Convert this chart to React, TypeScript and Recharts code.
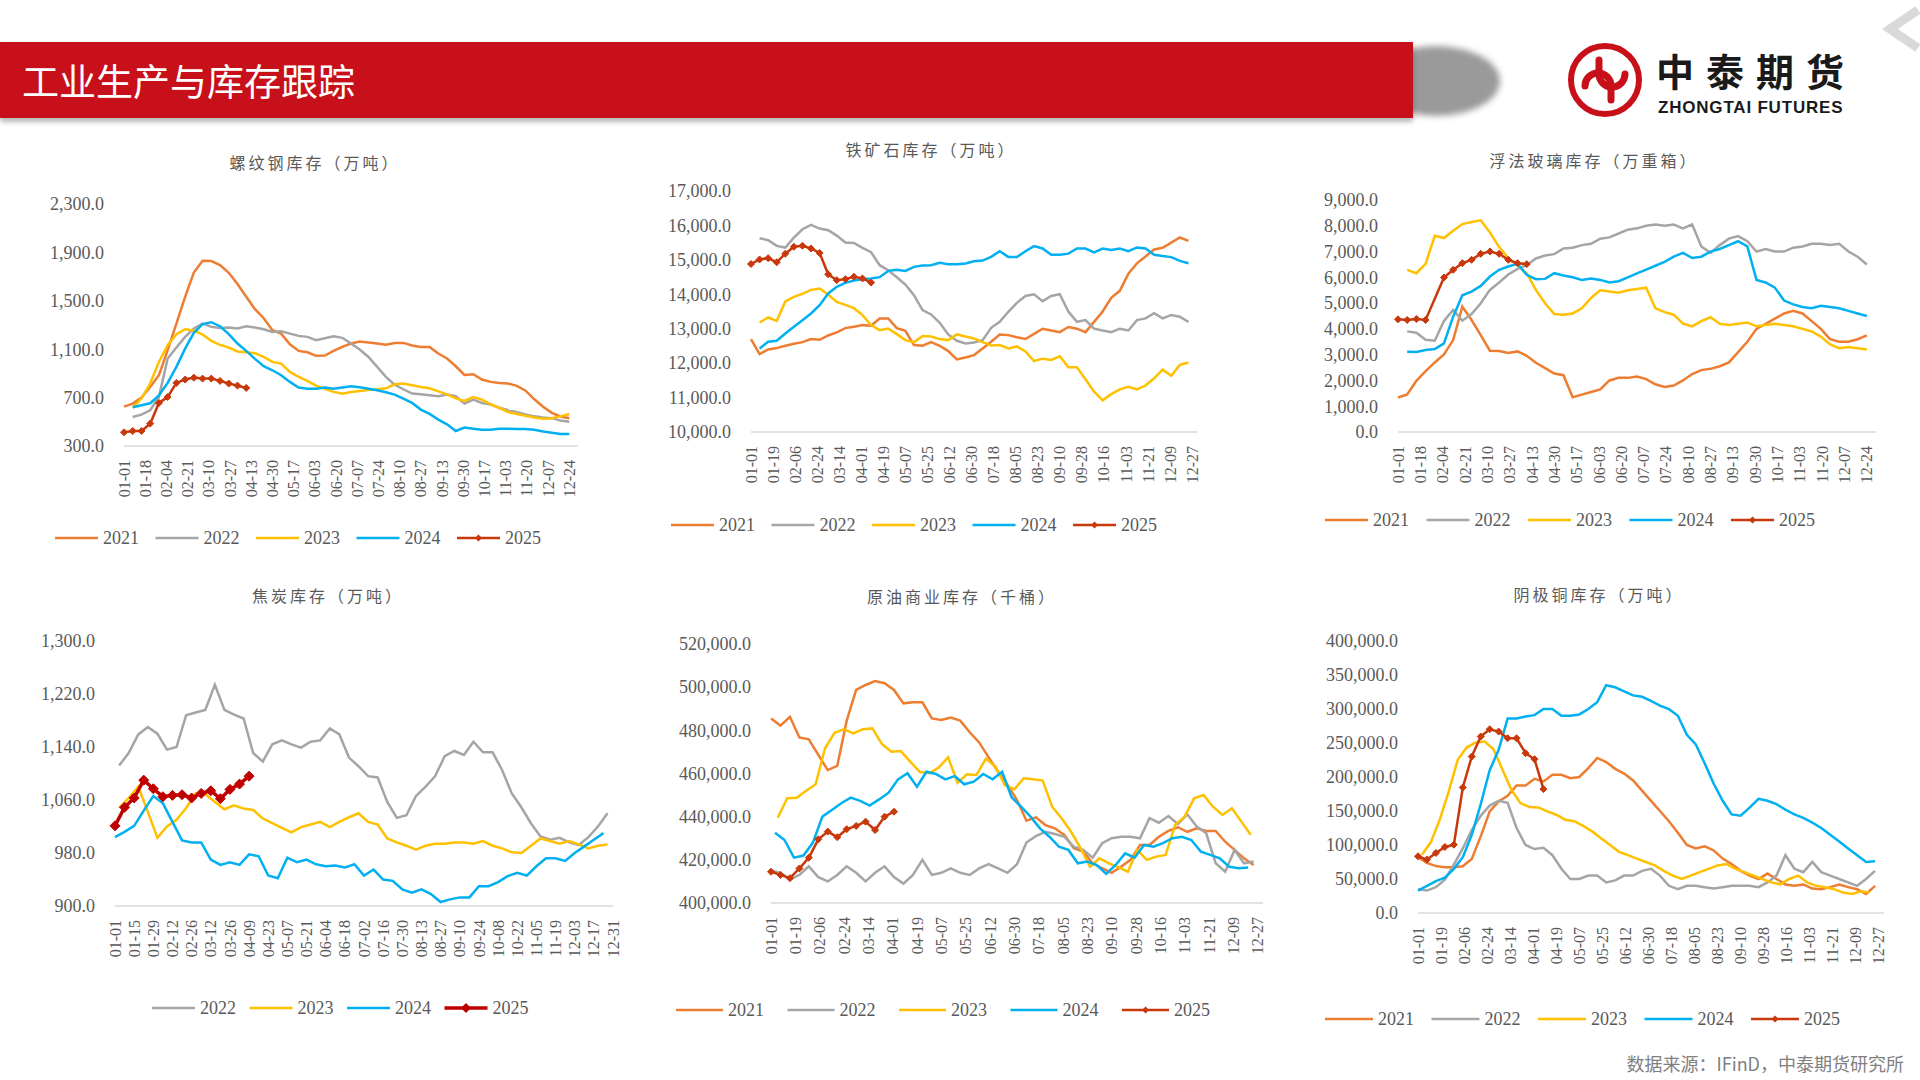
import React from "react";
import { LineChart, Line, XAxis, YAxis } from "recharts";

const ORANGE = "#ED7D31";
const GRAY = "#A5A5A5";
const YELLOW = "#FFC000";
const BLUE = "#00B0F0";
const RUST = "#C8380B";
const CRIMSON = "#C00000";
const TEXT = "#595959";

const NUM_FONT = "'Liberation Serif', 'Times New Roman', serif";
const CJK_FONT = "'Noto Sans CJK SC', 'Noto Sans', sans-serif";

// tick labels (MM-DD)
const tick17 = ["01-01", "01-18", "02-04", "02-21", "03-10", "03-27", "04-13", "04-30", "05-17", "06-03", "06-20", "07-07", "07-24", "08-10", "08-27", "09-13", "09-30", "10-17", "11-03", "11-20", "12-07", "12-24"];
const tick18 = ["01-01", "01-19", "02-06", "02-24", "03-14", "04-01", "04-19", "05-07", "05-25", "06-12", "06-30", "07-18", "08-05", "08-23", "09-10", "09-28", "10-16", "11-03", "11-21", "12-09", "12-27"];
const tick14 = ["01-01", "01-15", "01-29", "02-12", "02-26", "03-12", "03-26", "04-09", "04-23", "05-07", "05-21", "06-04", "06-18", "07-02", "07-16", "07-30", "08-13", "08-27", "09-10", "09-24", "10-08", "10-22", "11-05", "11-19", "12-03", "12-17", "12-31"];

// 螺纹钢库存（万吨）, weekly
const rebar2021 = [625, 650, 700, 788, 885, 1092, 1312, 1533, 1734, 1831, 1828, 1795, 1731, 1638, 1533, 1431, 1356, 1257, 1229, 1141, 1086, 1075, 1045, 1047, 1086, 1119, 1147, 1163, 1155, 1147, 1136, 1152, 1152, 1130, 1119, 1119, 1064, 1023, 959, 887, 893, 849, 830, 821, 816, 797, 757, 686, 625, 574, 544, 530];
const rebar2022 = [540, 559, 595, 705, 1023, 1114, 1202, 1271, 1312, 1285, 1276, 1279, 1271, 1290, 1279, 1265, 1243, 1249, 1229, 1210, 1202, 1174, 1191, 1207, 1194, 1147, 1097, 1036, 954, 871, 807, 769, 733, 727, 719, 711, 725, 711, 650, 683, 656, 642, 617, 595, 580, 560, 545, 535, 530, 510, 500];
const rebar2023 = [617, 692, 816, 995, 1133, 1224, 1265, 1254, 1221, 1169, 1136, 1114, 1081, 1075, 1067, 1036, 995, 981, 912, 871, 838, 799, 772, 747, 733, 747, 755, 763, 769, 777, 810, 816, 802, 788, 777, 752, 727, 694, 672, 705, 683, 645, 614, 581, 565, 550, 535, 525, 530, 545, 565];
const rebar2024 = [620, 636, 653, 719, 821, 954, 1105, 1235, 1307, 1323, 1290, 1224, 1147, 1086, 1020, 959, 926, 885, 830, 783, 774, 774, 783, 774, 783, 794, 785, 774, 761, 744, 725, 692, 656, 601, 565, 518, 479, 424, 452, 443, 435, 435, 443, 443, 440, 440, 435, 420, 410, 400, 400];
const rebar2025 = [413, 424, 424, 485, 656, 705, 821, 849, 865, 857, 857, 838, 816, 799, 780];

// 铁矿石库存（万吨）
const ore2021 = [12698, 12263, 12398, 12437, 12505, 12563, 12611, 12698, 12679, 12804, 12891, 13017, 13056, 13104, 13085, 13297, 13297, 13017, 12940, 12524, 12505, 12611, 12505, 12350, 12108, 12166, 12234, 12427, 12621, 12833, 12814, 12750, 12700, 12850, 13000, 12950, 12900, 13050, 13000, 12900, 13200, 13500, 13900, 14100, 14600, 14900, 15100, 15300, 15350, 15500, 15650, 15550];
const ore2022 = [15628, 15570, 15406, 15357, 15647, 15889, 16015, 15908, 15860, 15705, 15502, 15493, 15348, 15222, 14845, 14700, 14497, 14284, 13974, 13539, 13414, 13172, 12833, 12650, 12572, 12601, 12669, 13027, 13201, 13491, 13750, 13950, 14000, 13800, 13950, 14000, 13500, 13200, 13250, 13000, 12950, 12900, 13000, 12950, 13250, 13300, 13450, 13300, 13400, 13350, 13200];
const ore2023 = [13181, 13326, 13230, 13791, 13926, 14013, 14129, 14168, 13994, 13781, 13694, 13597, 13394, 13104, 12959, 13007, 12843, 12669, 12611, 12785, 12775, 12698, 12669, 12833, 12775, 12717, 12611, 12514, 12524, 12427, 12485, 12340, 12060, 12130, 12095, 12200, 11880, 11880, 11530, 11170, 10920, 11100, 11240, 11310, 11240, 11350, 11560, 11810, 11630, 11950, 12020];
const ore2024 = [12427, 12621, 12650, 12862, 13056, 13249, 13443, 13684, 14023, 14216, 14332, 14400, 14439, 14458, 14497, 14680, 14709, 14680, 14796, 14835, 14845, 14912, 14874, 14874, 14893, 14961, 14980, 15086, 15251, 15086, 15080, 15250, 15400, 15330, 15150, 15150, 15180, 15330, 15330, 15220, 15330, 15290, 15330, 15250, 15360, 15330, 15150, 15110, 15080, 14970, 14900];
const ore2025 = [14880, 15010, 15050, 14930, 15180, 15380, 15410, 15330, 15200, 14580, 14410, 14440, 14510, 14460, 14340];

// 浮法玻璃库存（万重箱）
const glass2021 = [1336, 1453, 1984, 2361, 2698, 3009, 3567, 4864, 4345, 3761, 3152, 3139, 3061, 3126, 2957, 2685, 2477, 2270, 2205, 1350, 1450, 1550, 1650, 2000, 2100, 2100, 2150, 2050, 1850, 1750, 1800, 2000, 2250, 2400, 2450, 2550, 2700, 3100, 3500, 4000, 4200, 4400, 4600, 4700, 4600, 4300, 4000, 3600, 3500, 3500, 3600, 3750];
const glass2022 = [3904, 3852, 3580, 3541, 4306, 4734, 4319, 4578, 4993, 5512, 5798, 6109, 6329, 6472, 6731, 6848, 6900, 7121, 7150, 7250, 7300, 7500, 7550, 7700, 7850, 7900, 8000, 8050, 8000, 8050, 7900, 8050, 7200, 6950, 7250, 7500, 7600, 7400, 7000, 7100, 7000, 7000, 7150, 7200, 7300, 7300, 7250, 7300, 7000, 6800, 6500];
const glass2023 = [6290, 6161, 6524, 7613, 7523, 7808, 8067, 8145, 8210, 7743, 7172, 6744, 6472, 6161, 5512, 4993, 4578, 4553, 4600, 4800, 5200, 5500, 5450, 5400, 5500, 5550, 5600, 4800, 4650, 4550, 4200, 4100, 4300, 4450, 4200, 4150, 4200, 4250, 4100, 4150, 4200, 4150, 4100, 4000, 3900, 3700, 3400, 3250, 3300, 3250, 3200];
const glass2024 = [3113, 3100, 3178, 3217, 3437, 4475, 5305, 5447, 5668, 6031, 6290, 6420, 6524, 6096, 5927, 5940, 6161, 6070, 6000, 5900, 5950, 5900, 5800, 5850, 6000, 6150, 6300, 6450, 6600, 6800, 6950, 6750, 6800, 7000, 7100, 7250, 7400, 7200, 5900, 5800, 5600, 5100, 4950, 4850, 4800, 4900, 4850, 4800, 4700, 4600, 4500];
const glass2025 = [4371, 4345, 4384, 4345, null, 5992, 6290, 6550, 6680, 6913, 7004, 6913, 6680, 6550, 6511];

// 焦炭库存（万吨）
const coke2022 = [1112, 1131, 1159, 1170, 1160, 1136, 1140, 1188, 1192, 1196, 1234, 1196, 1189, 1183, 1131, 1118, 1144, 1150, 1144, 1139, 1148, 1150, 1168, 1159, 1124, 1111, 1096, 1094, 1057, 1033, 1037, 1066, 1080, 1096, 1126, 1134, 1128, 1148, 1132, 1132, 1105, 1070, 1049, 1025, 1005, 1000, 1003, 996, 992, 1004, 1020, 1040];
const coke2023 = [1048, 1063, 1080, 1042, 1003, 1020, 1030, 1048, 1070, 1069, 1057, 1046, 1052, 1047, 1045, 1032, 1025, 1018, 1011, 1019, 1023, 1027, 1019, 1027, 1034, 1040, 1027, 1023, 1002, 996, 991, 985, 991, 994, 994, 996, 996, 994, 998, 991, 987, 981, 980, 991, 1002, 998, 994, 998, 993, 987, 991, 993];
const coke2024 = [1004, 1012, 1021, 1044, 1066, 1055, 1027, 999, 996, 996, 970, 962, 966, 962, 978, 975, 946, 942, 973, 966, 970, 963, 960, 961, 958, 963, 946, 955, 940, 938, 925, 920, 925, 918, 906, 910, 913, 913, 930, 930, 936, 945, 950, 946, 960, 972, 972, 968, 980, 990, 1000, 1010];
const coke2025 = [1021, 1049, 1063, 1090, 1077, 1065, 1067, 1068, 1063, 1070, 1074, 1062, 1076, 1084, 1096];

// 原油商业库存（千桶）
const crude2021 = [485500, 482200, 486300, 476700, 475800, 468600, 461600, 463500, 484500, 498700, 501000, 502800, 501800, 498700, 492500, 493000, 493000, 485500, 484800, 485900, 484500, 479100, 474400, 467500, 460800, 454700, 447700, 438100, 439700, 436100, 434600, 431500, 425400, 423800, 418400, 416100, 414000, 416800, 420000, 426900, 426900, 430700, 433400, 435100, 433000, 434600, 433400, 433400, 428400, 424600, 420700, 417600];
const crude2022 = [415000, 414000, 411000, 413000, 417000, 412000, 410000, 413000, 417000, 414000, 410000, 414000, 417000, 412000, 409000, 413000, 420000, 413000, 414000, 416000, 414000, 413000, 416000, 418000, 416000, 414000, 418000, 428000, 431000, 433000, 432000, 430700, 426100, 424600, 421000, 427700, 430000, 430700, 430700, 430000, 439300, 437200, 440300, 436600, 441100, 435400, 432300, 418400, 414500, 424600, 418400, 419200];
const crude2023 = [439500, 448500, 448800, 452000, 455000, 471700, 478900, 480500, 478600, 480500, 480900, 473700, 470100, 470400, 465500, 460800, 460100, 462700, 467500, 455700, 459600, 459300, 466900, 463200, 454700, 452700, 457800, 457300, 456700, 444600, 439300, 433000, 425400, 416800, 420700, 418400, 416600, 414500, 424600, 420000, 421500, 422300, 436200, 440000, 448500, 450000, 444600, 440800, 443900, 437700, 431500];
const crude2024 = [432600, 429200, 421000, 422000, 428000, 440000, 443100, 446200, 448800, 447300, 445100, 448000, 451100, 457300, 460100, 453900, 460800, 459800, 457300, 458800, 455000, 456200, 459800, 457300, 460800, 449000, 444600, 440000, 434600, 430700, 426100, 424600, 418400, 419200, 417600, 413500, 417600, 423000, 421000, 426900, 426100, 427700, 430000, 430700, 429200, 423800, 422300, 420700, 416800, 416100, 416500];
const crude2025 = [414500, 413000, 411500, 416000, 421000, 429500, 433100, 430500, 434200, 435700, 437700, 433800, 440000, 442300];

// 阴极铜库存（万吨）
const copper2021 = [81900, 73600, 69000, 67200, 67200, 68700, 79500, 112700, 149400, 164100, 172400, 187600, 187600, 197400, 193400, 203200, 203200, 198300, 200000, 213000, 228000, 222000, 212000, 205000, 195000, 180000, 165000, 150000, 135000, 118000, 100000, 95000, 98000, 92000, 80000, 72000, 62000, 55000, 50000, 58000, 50000, 42000, 40000, 42000, 36000, 35000, 38000, 42000, 38000, 35000, 28000, 40000];
const copper2022 = [35000, 33000, 38000, 49000, 71000, 95000, 122000, 143000, 158000, 165000, 162000, 125000, 100000, 94000, 96000, 85000, 65000, 50000, 50000, 55000, 55000, 45000, 48000, 55000, 55000, 62000, 65000, 55000, 40000, 35000, 40000, 40000, 38000, 36000, 38000, 40000, 40000, 40000, 38000, 45000, 55000, 85000, 65000, 60000, 75000, 60000, 55000, 50000, 45000, 40000, 50000, 62000];
const copper2023 = [85800, 103900, 137200, 178800, 225200, 243300, 250700, 252100, 240900, 210600, 181200, 161600, 155800, 155300, 149400, 144500, 137200, 135000, 128000, 120000, 110000, 100000, 90000, 85000, 80000, 75000, 70000, 62000, 55000, 50000, 55000, 60000, 65000, 70000, 72000, 65000, 60000, 55000, 50000, 45000, 42000, 50000, 55000, 45000, 40000, 38000, 35000, 30000, 28000, 32000, 30000];
const copper2024 = [33000, 40000, 47000, 52000, 65000, 82000, 115000, 160000, 210000, 240000, 286000, 286000, 289000, 291000, 300000, 300000, 290000, 290000, 292000, 300000, 310000, 335000, 332000, 326000, 320000, 318000, 312000, 305000, 300000, 290000, 262000, 248000, 220000, 190000, 165000, 145000, 143000, 155000, 168000, 165000, 160000, 152000, 145000, 140000, 133000, 125000, 115000, 105000, 95000, 85000, 75000, 76000];
const copper2025 = [83400, 78500, 88300, 97100, 100500, 184600, 230100, 259500, 270200, 266800, 257000, 257000, 235000, 226200, 182200];

const MONTH_DAYS = [31, 28, 31, 30, 31, 30, 31, 31, 30, 31, 30, 31];

const dayOfYear = (md: string) => {
  const [m, d] = md.split("-").map(Number);
  let n = d - 1;
  for (let i = 0; i < m - 1; i++) n += MONTH_DAYS[i];
  return n;
};

const labelOfDay = (day: number) => {
  let m = 0;
  let d = Math.round(day);
  while (m < 11 && d >= MONTH_DAYS[m]) {
    d -= MONTH_DAYS[m];
    m++;
  }
  return `${String(m + 1).padStart(2, "0")}-${String(d + 1).padStart(2, "0")}`;
};

const fmt = (v: number) =>
  v.toLocaleString("en-US", { minimumFractionDigits: 1, maximumFractionDigits: 1 });

type Series = { name: string; color: string; start: string; values: (number | null)[]; marker?: number; width?: number };

const buildRows = (series: Series[]) => {
  const map = new Map<number, any>();
  series.forEach((s, k) => {
    const d0 = dayOfYear(s.start);
    s.values.forEach((v, i) => {
      if (v == null) return;
      const day = d0 + 7 * i;
      const row = map.get(day) || { day };
      row[`s${k}`] = v;
      map.set(day, row);
    });
  });
  return Array.from(map.values()).sort((a, b) => a.day - b.day);
};

const XTick = (props: any) => {
  const { x, y, payload } = props;
  return (
    <text x={x} y={y} transform={`rotate(-90, ${x}, ${y})`} textAnchor="end" dy="0.35em"
      fontFamily={NUM_FONT} fontSize={16} fill={TEXT}>
      {labelOfDay(payload.value)}
    </text>
  );
};

const YTick = (props: any) => {
  const { x, y, payload } = props;
  return (
    <text x={x} y={y} textAnchor="end" dy="0.35em" fontFamily={NUM_FONT} fontSize={18} fill={TEXT}>
      {fmt(payload.value)}
    </text>
  );
};

const diamondDot = (color: string, r: number) => (props: any) => {
  const { cx, cy, index } = props;
  if (cx == null || cy == null || Number.isNaN(cx) || Number.isNaN(cy)) return <g key={`d${index}`} />;
  return (
    <path key={`d${index}`} d={`M${cx},${cy - r} L${cx + r},${cy} L${cx},${cy + r} L${cx - r},${cy} Z`}
      fill={color} stroke={color} strokeWidth={1} />
  );
};

type PanelCfg = {
  title: string;
  titleX: number;
  titleY: number;
  plotLeft: number;
  plotTop: number;
  plotW: number;
  plotH: number;
  yDomain: [number, number];
  yTicks: number[];
  xTicks: string[];
  series: Series[];
  legendX: number;
  legendY: number;
  legendPitch: number;
  legendLine: number;
};

const LegendRow = ({ cfg }: { cfg: PanelCfg }) => {
  const n = cfg.series.length;
  return (
    <svg style={{ position: "absolute", left: cfg.legendX, top: cfg.legendY - 15 }} width={cfg.legendPitch * n} height={30}>
      {cfg.series.map((s, i) => {
        const x0 = i * cfg.legendPitch;
        const mid = x0 + cfg.legendLine / 2;
        const r = s.marker || 0;
        return (
          <g key={s.name}>
            <line x1={x0} y1={15} x2={x0 + cfg.legendLine} y2={15} stroke={s.color} strokeWidth={s.width || 2.5} />
            {r > 0 && <path d={`M${mid},${15 - r} L${mid + r},15 L${mid},${15 + r} L${mid - r},15 Z`} fill={s.color} />}
            <text x={x0 + cfg.legendLine + 5} y={15} dy="0.35em" fontFamily={NUM_FONT} fontSize={18} fill={TEXT}>
              {s.name}
            </text>
          </g>
        );
      })}
    </svg>
  );
};

const Panel = ({ cfg }: { cfg: PanelCfg }) => {
  const rows = buildRows(cfg.series);
  const yAxisW = 110;
  const padTop = 12;
  const padRight = 12;
  const xAxisH = 70;
  return (
    <>
      <div style={{
        position: "absolute", left: cfg.titleX, top: cfg.titleY, transform: "translate(-50%, -50%)",
        whiteSpace: "nowrap", fontFamily: CJK_FONT, fontSize: 16, letterSpacing: 3, color: TEXT,
      }}>
        {cfg.title}
      </div>
      <div style={{ position: "absolute", left: cfg.plotLeft - yAxisW, top: cfg.plotTop - padTop }}>
        <LineChart width={yAxisW + cfg.plotW + padRight} height={padTop + cfg.plotH + xAxisH} data={rows}
          margin={{ top: padTop, right: padRight, bottom: 0, left: 0 }}>
          <XAxis type="number" dataKey="day" domain={[0, 364]} ticks={cfg.xTicks.map(dayOfYear)} interval={0}
            height={xAxisH} tickSize={0} tickMargin={14} tickLine={false}
            axisLine={{ stroke: "#D9D9D9", strokeWidth: 1.5 }} tick={XTick} />
          <YAxis type="number" domain={cfg.yDomain} ticks={cfg.yTicks} interval={0} width={yAxisW}
            tickSize={0} tickMargin={20} axisLine={false} tickLine={false} tick={YTick} />
          {cfg.series.map((s, k) => (
            <Line key={s.name} type="linear" dataKey={`s${k}`} stroke={s.color} strokeWidth={s.width || 2.5}
              dot={s.marker ? diamondDot(s.color, s.marker) : false} activeDot={false}
              connectNulls isAnimationActive={false} />
          ))}
        </LineChart>
      </div>
      <LegendRow cfg={cfg} />
    </>
  );
};

const panels: PanelCfg[] = [
  {
    title: "螺纹钢库存（万吨）", titleX: 315, titleY: 162,
    plotLeft: 124, plotTop: 204, plotW: 454, plotH: 242,
    yDomain: [300, 2300], yTicks: [300, 700, 1100, 1500, 1900, 2300], xTicks: tick17,
    series: [
      { name: "2021", color: ORANGE, start: "01-01", values: rebar2021 },
      { name: "2022", color: GRAY, start: "01-08", values: rebar2022 },
      { name: "2023", color: YELLOW, start: "01-08", values: rebar2023 },
      { name: "2024", color: BLUE, start: "01-08", values: rebar2024 },
      { name: "2025", color: RUST, start: "01-01", values: rebar2025, marker: 3.5 },
    ],
    legendX: 55, legendY: 538, legendPitch: 100.5, legendLine: 43,
  },
  {
    title: "铁矿石库存（万吨）", titleX: 931, titleY: 149,
    plotLeft: 751, plotTop: 191, plotW: 446, plotH: 241,
    yDomain: [10000, 17000], yTicks: [10000, 11000, 12000, 13000, 14000, 15000, 16000, 17000], xTicks: tick18,
    series: [
      { name: "2021", color: ORANGE, start: "01-01", values: ore2021 },
      { name: "2022", color: GRAY, start: "01-08", values: ore2022 },
      { name: "2023", color: YELLOW, start: "01-08", values: ore2023 },
      { name: "2024", color: BLUE, start: "01-08", values: ore2024 },
      { name: "2025", color: RUST, start: "01-01", values: ore2025, marker: 3.5 },
    ],
    legendX: 671, legendY: 525, legendPitch: 100.5, legendLine: 43,
  },
  {
    title: "浮法玻璃库存（万重箱）", titleX: 1594, titleY: 160,
    plotLeft: 1398, plotTop: 200, plotW: 478, plotH: 232,
    yDomain: [0, 9000], yTicks: [0, 1000, 2000, 3000, 4000, 5000, 6000, 7000, 8000, 9000], xTicks: tick17,
    series: [
      { name: "2021", color: ORANGE, start: "01-01", values: glass2021 },
      { name: "2022", color: GRAY, start: "01-08", values: glass2022 },
      { name: "2023", color: YELLOW, start: "01-08", values: glass2023 },
      { name: "2024", color: BLUE, start: "01-08", values: glass2024 },
      { name: "2025", color: RUST, start: "01-01", values: glass2025, marker: 3.5 },
    ],
    legendX: 1325, legendY: 520, legendPitch: 101.5, legendLine: 43,
  },
  {
    title: "焦炭库存（万吨）", titleX: 328, titleY: 595,
    plotLeft: 115, plotTop: 641, plotW: 498, plotH: 265,
    yDomain: [900, 1300], yTicks: [900, 980, 1060, 1140, 1220, 1300], xTicks: tick14,
    series: [
      { name: "2022", color: GRAY, start: "01-04", values: coke2022 },
      { name: "2023", color: YELLOW, start: "01-04", values: coke2023 },
      { name: "2024", color: BLUE, start: "01-01", values: coke2024 },
      { name: "2025", color: CRIMSON, start: "01-01", values: coke2025, marker: 5, width: 3.5 },
    ],
    legendX: 152, legendY: 1008, legendPitch: 97.5, legendLine: 43,
  },
  {
    title: "原油商业库存（千桶）", titleX: 962, titleY: 596,
    plotLeft: 771, plotTop: 644, plotW: 492, plotH: 259,
    yDomain: [400000, 520000], yTicks: [400000, 420000, 440000, 460000, 480000, 500000, 520000], xTicks: tick18,
    series: [
      { name: "2021", color: ORANGE, start: "01-01", values: crude2021 },
      { name: "2022", color: GRAY, start: "01-01", values: crude2022 },
      { name: "2023", color: YELLOW, start: "01-06", values: crude2023 },
      { name: "2024", color: BLUE, start: "01-04", values: crude2024 },
      { name: "2025", color: RUST, start: "01-01", values: crude2025, marker: 3.5 },
    ],
    legendX: 676, legendY: 1010, legendPitch: 111.5, legendLine: 47,
  },
  {
    title: "阴极铜库存（万吨）", titleX: 1599, titleY: 594,
    plotLeft: 1418, plotTop: 641, plotW: 466, plotH: 272,
    yDomain: [0, 400000], yTicks: [0, 50000, 100000, 150000, 200000, 250000, 300000, 350000, 400000], xTicks: tick18,
    series: [
      { name: "2021", color: ORANGE, start: "01-01", values: copper2021 },
      { name: "2022", color: GRAY, start: "01-01", values: copper2022 },
      { name: "2023", color: YELLOW, start: "01-04", values: copper2023 },
      { name: "2024", color: BLUE, start: "01-01", values: copper2024 },
      { name: "2025", color: RUST, start: "01-01", values: copper2025, marker: 3.5 },
    ],
    legendX: 1325, legendY: 1019, legendPitch: 106.5, legendLine: 48,
  },
];

const Header = () => (
  <>
    <div style={{
      position: "absolute", left: 1372, top: 46, width: 128, height: 70, borderRadius: "50%",
      background: "#9a9a9a", filter: "blur(3px)",
    }} />
    <div style={{
      position: "absolute", left: 0, top: 42, width: 1413, height: 76, background: "#C8101A",
      boxShadow: "0 4px 5px rgba(0,0,0,0.28)",
    }}>
      <div style={{
        position: "absolute", left: 22, top: 0, height: 76, lineHeight: "76px", color: "#fff",
        fontSize: 37, fontFamily: CJK_FONT, whiteSpace: "nowrap",
      }}>
        工业生产与库存跟踪
      </div>
    </div>
    <svg style={{ position: "absolute", left: 1565, top: 40 }} width={80} height={80}>
      <g transform="translate(40,40)" fill="none" stroke="#C8101A" strokeLinecap="round">
        <circle r={34} strokeWidth={6} />
        <path d="M -20 6 A 13 13 0 1 1 6 6 L 6 20" strokeWidth={7} />
        <path d="M 20 -6 A 13 13 0 1 1 -6 -6 L -6 -20" strokeWidth={7} />
      </g>
    </svg>
    <div style={{
      position: "absolute", left: 1656, top: 50, height: 40, fontFamily: CJK_FONT,
      fontWeight: 700, fontSize: 38, letterSpacing: 12, color: "#1a1a1a", lineHeight: "40px", whiteSpace: "nowrap",
    }}>
      中泰期货
    </div>
    <div style={{
      position: "absolute", left: 1658, top: 100, height: 16, fontFamily: "'Liberation Sans', Arial, sans-serif",
      fontWeight: 700, fontSize: 17, letterSpacing: 0.8, color: "#1a1a1a", lineHeight: "16px", whiteSpace: "nowrap",
    }}>
      ZHONGTAI FUTURES
    </div>
    <svg style={{ position: "absolute", left: 1870, top: 0 }} width={50} height={60}>
      <polyline points="48,10 20,29 48,48" fill="none" stroke="#D9D9D9" strokeWidth={9} />
    </svg>
  </>
);

export default function App() {
  return (
    <div style={{
      position: "absolute", left: 0, top: 0, width: 1920, height: 1080, overflow: "hidden",
      background: "#ffffff",
    }}>
      <Header />
      {panels.map((p) => (
        <Panel key={p.title} cfg={p} />
      ))}
      <div style={{
        position: "absolute", right: 16, top: 1050, fontFamily: CJK_FONT, fontSize: 18,
        color: "#7F7F7F", whiteSpace: "nowrap",
      }}>
        数据来源：IFinD，中泰期货研究所
      </div>
    </div>
  );
}
